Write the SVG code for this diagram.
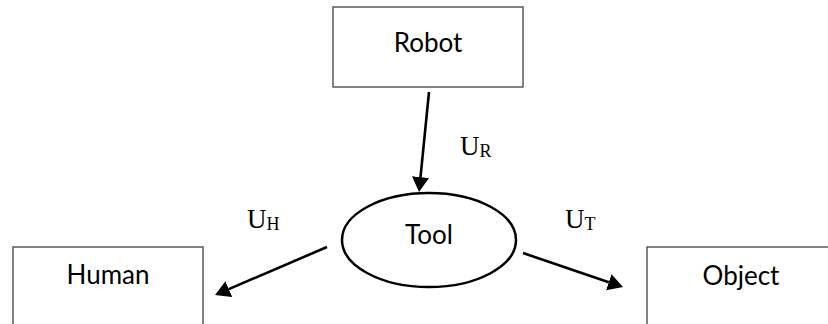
<svg xmlns="http://www.w3.org/2000/svg" width="828" height="324" viewBox="0 0 828 324">
  <style>
    .box { fill: #ffffff; stroke: #4d4d4d; stroke-width: 1.4; }
    .oval { fill: #ffffff; stroke: #000000; stroke-width: 2.5; }
    .name { font-family: Lato, "Open Sans", sans-serif; font-size: 26px; fill: #000000; text-anchor: middle; }
    .sym { font-family: "Liberation Serif", serif; font-size: 27px; fill: #000000; }
    .sub { font-size: 18px; }
    .flow { fill: none; stroke: #000000; stroke-width: 2.6; }
  </style>
  <defs>
    <marker id="head" markerUnits="userSpaceOnUse" markerWidth="16" markerHeight="18" refX="0" refY="8.5" orient="auto">
      <path d="M0,0 L15,8.5 L0,17 z" fill="#000000"/>
    </marker>
  </defs>

  <g id="robot">
    <rect class="box" x="333" y="7" width="190" height="80"/>
    <text class="name" x="428" y="52">Robot</text>
  </g>

  <g id="tool">
    <ellipse class="oval" cx="429" cy="240" rx="87" ry="47"/>
    <text class="name" x="429" y="244">Tool</text>
  </g>

  <g id="human">
    <rect class="box" x="13" y="247" width="190" height="90"/>
    <text class="name" x="108" y="284">Human</text>
  </g>

  <g id="object">
    <rect class="box" x="647" y="247" width="190" height="90"/>
    <text class="name" x="741" y="285">Object</text>
  </g>

  <g id="connectors">
    <line class="flow" x1="429" y1="92" x2="420.5" y2="177.1" marker-end="url(#head)"/>
    <line class="flow" x1="327" y1="247" x2="228.8" y2="289.1" marker-end="url(#head)"/>
    <line class="flow" x1="523" y1="253" x2="608.8" y2="282.2" marker-end="url(#head)"/>
    <text class="sym" x="460" y="155">U<tspan class="sub" dy="2">R</tspan></text>
    <text class="sym" x="247" y="228">U<tspan class="sub" dy="2">H</tspan></text>
    <text class="sym" x="565" y="228">U<tspan class="sub" dy="2">T</tspan></text>
  </g>
</svg>
